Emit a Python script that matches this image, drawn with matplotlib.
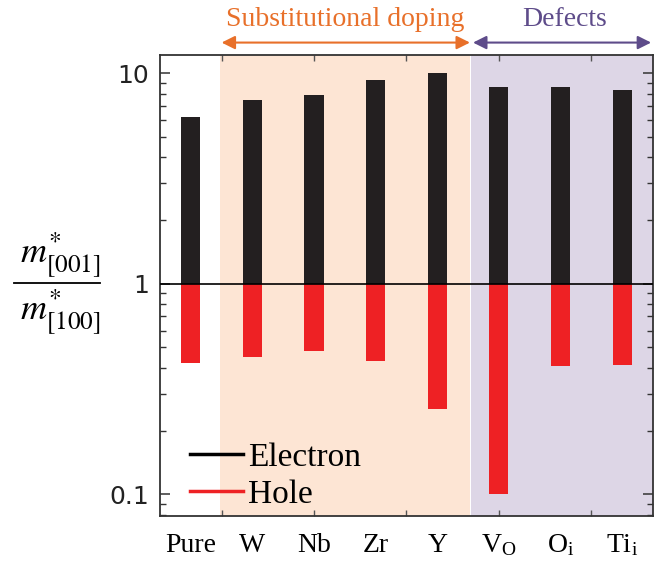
import matplotlib
matplotlib.use("Agg")
import matplotlib.pyplot as plt
import numpy as np
from matplotlib.ticker import LogLocator, NullFormatter, FixedLocator

plt.rcParams['mathtext.fontset'] = 'stix'
plt.rcParams['font.serif'] = ['Liberation Serif', 'DejaVu Serif']

categories = ['Pure', 'W', 'Nb', 'Zr', 'Y', r'V$_\mathregular{O}$', r'O$_\mathregular{i}$', r'Ti$_\mathregular{i}$']
electron = [6.2, 7.47, 7.89, 9.28, 10.0, 8.64, 8.64, 8.3]
hole = [0.42, 0.449, 0.48, 0.43, 0.255, 0.101, 0.405, 0.41]
y_ticks = [0.1, 1, 10]
y_ticklabels = ['0.1', '1', '10']
group_labels = ['Substitutional doping', 'Defects']

black = '#231F20'
red = '#EE2124'
orange = '#E8702A'
purple = '#5E4C8A'

fig = plt.figure(figsize=(6.68, 5.62), dpi=100)
ax = fig.add_axes([0.2395, 0.0819, 0.738, 0.8202])

x = np.arange(len(categories))
ax.set_yscale('log')
ax.set_xlim(-0.5, 7.5)
ax.set_ylim(0.079, 12.2)

# backgrounds
ax.axvspan(0.48, 4.525, color='#FDE5D4', lw=0, zorder=0)
ax.axvspan(4.545, 7.5, color='#DDD6E6', lw=0, zorder=0)

w = 0.31
ax.bar(x, np.array(electron) - 1, bottom=1, width=w, color=black, zorder=2)
ax.bar(x, np.array(hole) - 1, bottom=1, width=w, color=red, zorder=2)
ax.axhline(1, color='black', lw=1.2, zorder=3)

# ticks
ax.yaxis.set_major_locator(FixedLocator(y_ticks))
ax.set_yticklabels(y_ticklabels)
ax.yaxis.set_minor_locator(LogLocator(base=10, subs=np.arange(2, 10)))
ax.yaxis.set_minor_formatter(NullFormatter())
ax.tick_params(axis='y', which='major', direction='in', length=7, width=1.1,
               right=True, labelsize=18, pad=8, colors='#333333', labelcolor='#222222')
ax.tick_params(axis='y', which='minor', direction='in', length=4, width=1.0,
               right=True, colors='#333333')

ax.xaxis.remove_overlapping_locs = False
ax.set_xticks([0.5, 2, 3.5, 5, 6.5])
ax.set_xticklabels([])
ax.set_xticks(x, minor=True)
ax.set_xticklabels(categories, minor=True, family='serif', fontsize=20)
ax.tick_params(axis='x', which='major', direction='in', length=4, width=1.0,
               top=True, colors='#555555')
ax.tick_params(axis='x', which='minor', length=0, pad=12, labelcolor='black')

for s in ax.spines.values():
    s.set_linewidth(1.3)
    s.set_color('#333333')

# legend
ax.plot([], [], color='black', lw=2.5, label='Electron')
ax.plot([], [], color=red, lw=2.5, label='Hole')
leg = ax.legend(loc='lower left', bbox_to_anchor=(0.0, -0.052), frameon=False,
                prop={'family': 'serif', 'size': 24},
                handlelength=1.6, handletextpad=0.15, labelspacing=0.2)

# group arrows and labels
ax.annotate('', xy=(0.5, 1.027), xytext=(4.53, 1.027),
            xycoords=('data', 'axes fraction'), textcoords=('data', 'axes fraction'),
            arrowprops=dict(arrowstyle='<|-|>', color=orange, lw=1.5, mutation_scale=20,
                            shrinkA=0, shrinkB=0), annotation_clip=False)
ax.annotate('', xy=(4.58, 1.027), xytext=(7.47, 1.027),
            xycoords=('data', 'axes fraction'), textcoords=('data', 'axes fraction'),
            arrowprops=dict(arrowstyle='<|-|>', color=purple, lw=1.5, mutation_scale=20,
                            shrinkA=0, shrinkB=0), annotation_clip=False)
ax.text(2.5, 1.078, group_labels[0], transform=ax.get_xaxis_transform(), ha='center',
        va='center', color=orange, family='serif', fontsize=20)
ax.text(6.07, 1.078, group_labels[1], transform=ax.get_xaxis_transform(), ha='center',
        va='center', color=purple, family='serif', fontsize=20)

# y label as fraction
fig.text(60/668, 1 - 255/562, r'$m^{*}_{\mathrm{[001]}}$', ha='center', va='center', fontsize=26)
fig.text(60/668, 1 - 312/562, r'$m^{*}_{\mathrm{[100]}}$', ha='center', va='center', fontsize=26)
fig.add_artist(plt.Line2D([14/668, 100/668], [1 - 283/562, 1 - 283/562], color='black', lw=1.3))

fig.savefig('out.png', dpi=100)
